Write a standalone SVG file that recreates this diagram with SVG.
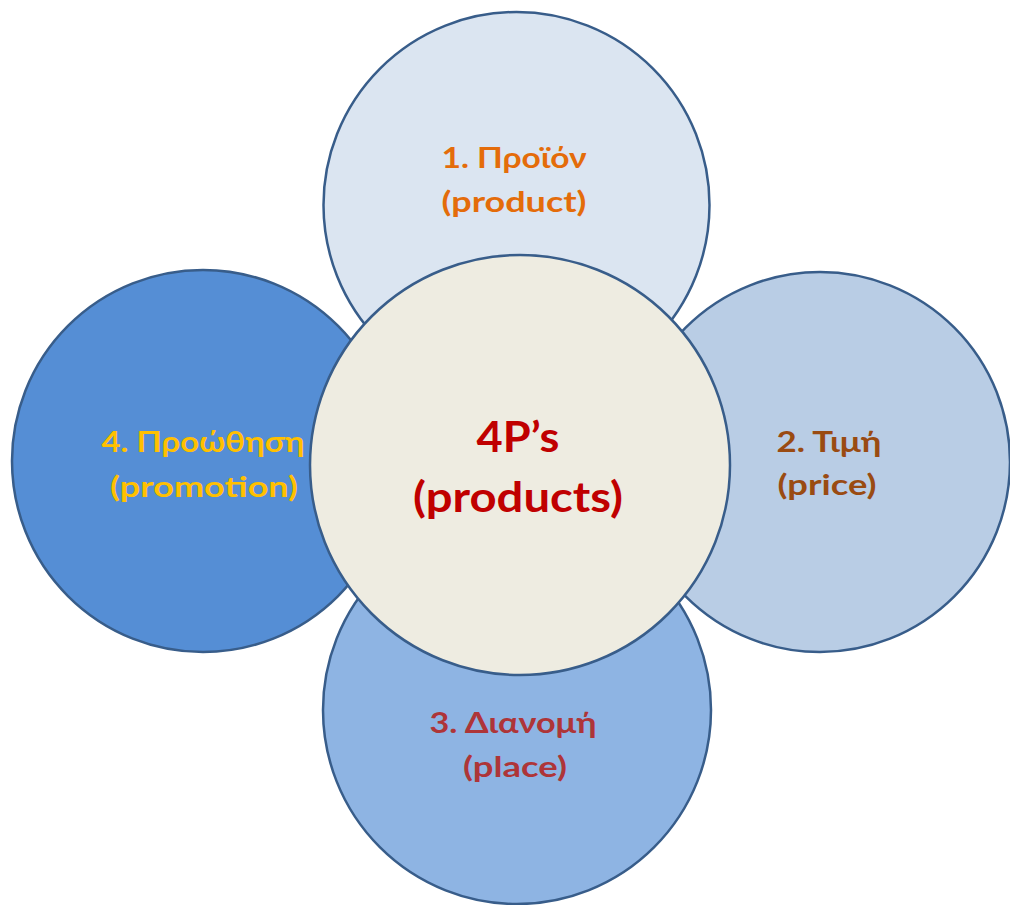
<svg xmlns="http://www.w3.org/2000/svg" width="1010" height="905" viewBox="0 0 1010 905">
<style>
.c{stroke:#385D8A;stroke-width:2.5}
.t{font-family:Lato,"Noto Sans","Liberation Sans",sans-serif;font-weight:bold;font-size:29px;text-anchor:middle}
.big{font-size:42px}
</style>
<rect width="1010" height="905" fill="#FFFFFF"/>
<g id="connectors"/>
<g id="product">
<circle class="c" cx="516.5" cy="205" r="193" fill="#DBE5F1"/>
<text class="t" fill="#E46C0A" x="514" y="168" textLength="145" lengthAdjust="spacingAndGlyphs">1. Προϊόν</text>
<text class="t" fill="#E46C0A" x="514" y="212" textLength="145" lengthAdjust="spacingAndGlyphs">(product)</text>
</g>
<g id="price">
<circle class="c" cx="820" cy="462" r="190" fill="#B9CDE5"/>
<text class="t" fill="#9A4B12" x="829" y="452" textLength="105" lengthAdjust="spacingAndGlyphs">2. Τιμή</text>
<text class="t" fill="#9A4B12" x="827" y="495" textLength="99" lengthAdjust="spacingAndGlyphs">(price)</text>
</g>
<g id="place">
<circle class="c" cx="517" cy="710" r="194" fill="#8EB4E3"/>
<text class="t" fill="#AE3538" x="513" y="733" textLength="167" lengthAdjust="spacingAndGlyphs">3. Διανομή</text>
<text class="t" fill="#AE3538" x="515" y="777" textLength="104" lengthAdjust="spacingAndGlyphs">(place)</text>
</g>
<g id="promotion">
<circle class="c" cx="203" cy="461" r="191" fill="#558ED5"/>
<text class="t" fill="#FFC000" x="203" y="452" textLength="203" lengthAdjust="spacingAndGlyphs">4. Προώθηση</text>
<text class="t" fill="#FFC000" x="204" y="497" textLength="188" lengthAdjust="spacingAndGlyphs">(promotion)</text>
</g>
<g id="center">
<circle class="c" cx="520" cy="465" r="210" fill="#EEECE1"/>
<text class="t big" fill="#C00000" x="518" y="452" textLength="83" lengthAdjust="spacingAndGlyphs">4P’s</text>
<text class="t big" fill="#C00000" x="518" y="512" textLength="210" lengthAdjust="spacingAndGlyphs">(products)</text>
</g>
</svg>
